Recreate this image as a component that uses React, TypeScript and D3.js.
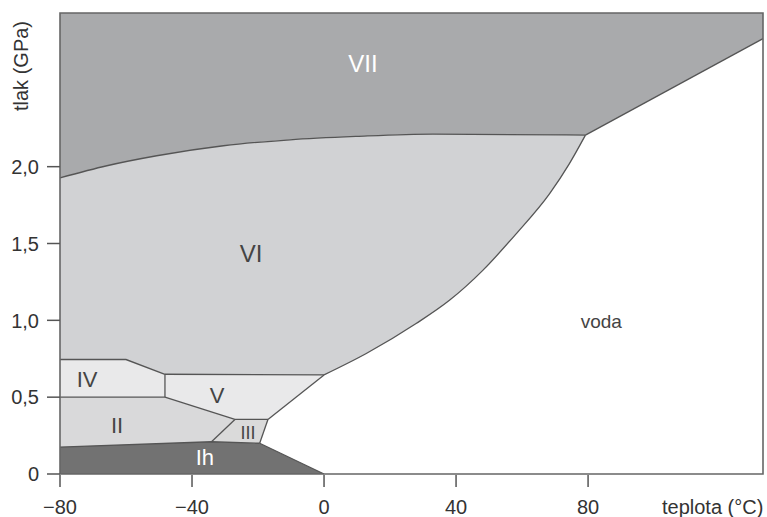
import React from 'react'
import * as d3 from 'd3'

// phase boundaries of water, [teplota °C, tlak GPa]
const viVii: [number, number][] = [[-80, 1.927], [-65.8, 2.006], [-50.7, 2.071], [-30.5, 2.136], [-10.3, 2.175], [9.9, 2.197], [33, 2.212], [79.2, 2.205]]
const viLiquid: [number, number][] = [[0, 0.645], [12.8, 0.784], [27.9, 0.979], [38, 1.13], [48.1, 1.325], [58.2, 1.563], [68.3, 1.823], [74.3, 2.018], [79.2, 2.205]]
const viiLiquid: [number, number][] = [[79.2, 2.205], [133, 2.833]]
const vLiquid: [number, number][] = [[-17, 0.355], [0, 0.645]]
const iiiLiquid: [number, number][] = [[-19.5, 0.2], [-17, 0.355]]
const ihLiquid: [number, number][] = [[-19.5, 0.2], [0, 0]]
const ihTop: [number, number][] = [[-80, 0.175], [-34.1, 0.21], [-19.5, 0.2]]
const iiIii: [number, number][] = [[-34.1, 0.21], [-27, 0.355]]
const iiiV: [number, number][] = [[-27, 0.355], [-17, 0.355]]
const iiV: [number, number][] = [[-48.2, 0.5], [-27, 0.355]]
const iiIv: [number, number][] = [[-80, 0.5], [-48.2, 0.5]]
const ivV: [number, number][] = [[-48.2, 0.5], [-48.2, 0.649]]
const ivVi: [number, number][] = [[-80, 0.745], [-60, 0.745], [-48.2, 0.649]]
const vVi: [number, number][] = [[-48.2, 0.649], [0, 0.645]]

const xTicks = [-80, -40, 0, 40, 80]
const yTicks = [0, 0.5, 1, 1.5, 2]
const yTickLabels = ['0', '0,5', '1,0', '1,5', '2,0']

const phaseLabels = [
  { name: 'VII', t: 11.8, p: 2.675, size: 24, color: '#fff' },
  { name: 'VI', t: -22.1, p: 1.438, size: 24, color: '#444' },
  { name: 'IV', t: -71.8, p: 0.615, size: 22, color: '#444' },
  { name: 'V', t: -32.4, p: 0.514, size: 22, color: '#444' },
  { name: 'II', t: -62.7, p: 0.316, size: 22, color: '#444' },
  { name: 'III', t: -23, p: 0.273, size: 18, color: '#444' },
  { name: 'Ih', t: -36.1, p: 0.111, size: 22, color: '#fff' },
  { name: 'voda', t: 84, p: 0.994, size: 19, color: '#444' },
]

const W = 767
const H = 517
const x = d3.scaleLinear().domain([-80, 133]).range([60, 763])
const y = d3.scaleLinear().domain([0, 3]).range([474, 13])

const rev = (a: [number, number][]) => a.slice().reverse()

function region(parts: { pts: [number, number][]; curve?: d3.CurveFactory }[]) {
  return parts.map((p, i) => {
    const s = d3.line<[number, number]>()
      .x(d => x(d[0])).y(d => y(d[1]))
      .curve(p.curve || d3.curveLinear)(p.pts) || ''
    return i ? 'L' + s.slice(1) : s
  }).join('') + 'Z'
}

const lin = (pts: [number, number][]) => ({ pts })
const crv = (pts: [number, number][]) => ({ pts, curve: d3.curveMonotoneX })

export default function App() {
  const font = '"Liberation Sans", Arial, Helvetica, sans-serif'
  const lineGen = d3.line<[number, number]>().x(d => x(d[0])).y(d => y(d[1]))
  const curveGen = d3.line<[number, number]>().x(d => x(d[0])).y(d => y(d[1])).curve(d3.curveMonotoneX)

  const regions = [
    { fill: '#a9aaac', d: region([lin([[-80, 3], [133, 3], [133, 2.833], [79.2, 2.205]]), crv(rev(viVii))]) },
    { fill: '#d1d2d4', d: region([lin([[-80, 0.745]]), crv(viVii), crv(rev(viLiquid)), lin(rev(vVi).concat([[-60, 0.745]]))]) },
    { fill: '#e9e9ea', d: region([lin([...iiIv, ...ivV, [-60, 0.745], [-80, 0.745]])]) },
    { fill: '#e9e9ea', d: region([lin([...ivV, [0, 0.645], [-17, 0.355], [-27, 0.355]])]) },
    { fill: '#d9d9da', d: region([lin([...iiIv, ...iiV, [-34.1, 0.21], [-80, 0.175]])]) },
    { fill: '#dadada', d: region([lin([...iiIii, ...iiiV, [-19.5, 0.2]])]) },
    { fill: '#727272', d: region([lin([[-80, 0], ...ihTop, [0, 0]])]) },
  ]

  const straight = [viiLiquid, vLiquid, iiiLiquid, ihLiquid, ihTop, iiIii, iiiV, iiV, iiIv, ivV, ivVi, vVi]

  return (
    <svg width={W} height={H} style={{ position: 'absolute', left: 0, top: 0, background: '#fff' }} fontFamily={font}>
      {regions.map((r, i) => <path key={i} d={r.d} fill={r.fill} stroke="none" />)}
      {straight.map((b, i) => <path key={'b' + i} d={lineGen(b) || ''} fill="none" stroke="#555" strokeWidth={1.3} />)}
      <path d={curveGen(viVii) || ''} fill="none" stroke="#555" strokeWidth={1.3} />
      <path d={curveGen(viLiquid) || ''} fill="none" stroke="#555" strokeWidth={1.3} />

      {/* frame */}
      <path d={`M${x(-80)},${y(0)}V${y(3)}H${x(133)}V${y(0)}Z`} fill="none" stroke="#666" strokeWidth={1.6} />

      {/* axes */}
      {xTicks.map(t => (
        <g key={'x' + t}>
          <line x1={x(t)} x2={x(t)} y1={y(0) + 1} y2={y(0) + 13} stroke="#555" strokeWidth={1.5} />
          <text x={x(t)} y={514} textAnchor="middle" fontSize={20} fill="#333">{t < 0 ? '\u2212' + Math.abs(t) : t}</text>
        </g>
      ))}
      {yTicks.map((t, i) => (
        <g key={'y' + t}>
          <line x1={47} x2={x(-80)} y1={y(t)} y2={y(t)} stroke="#555" strokeWidth={1.5} />
          <text x={39} y={y(t)} dy="0.36em" textAnchor="end" fontSize={20} fill="#333">{yTickLabels[i]}</text>
        </g>
      ))}
      <text x={662} y={514} fontSize={20} fill="#333">teplota (°C)</text>
      <text transform="translate(28,66) rotate(-90)" textAnchor="middle" fontSize={20} fill="#333">tlak (GPa)</text>

      {phaseLabels.map(l => (
        <text key={l.name} x={x(l.t)} y={y(l.p)} dy="0.36em" textAnchor="middle" fontSize={l.size} fill={l.color}>{l.name}</text>
      ))}
    </svg>
  )
}
